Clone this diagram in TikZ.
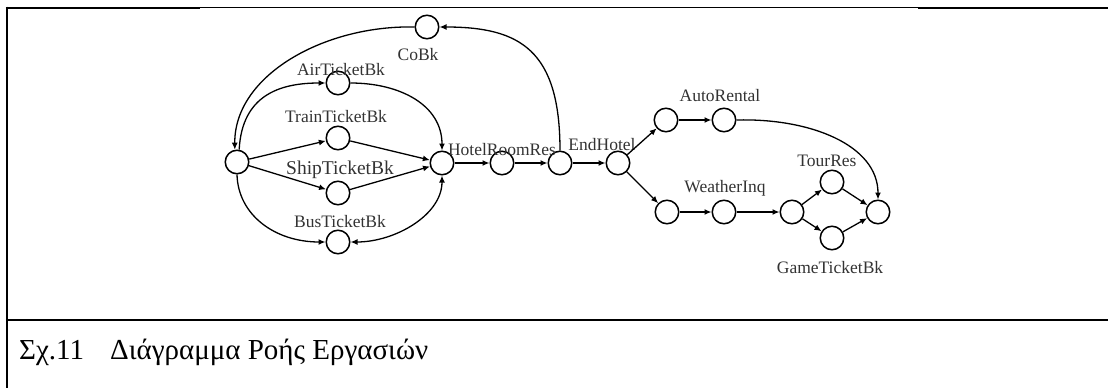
\documentclass[tikz,border=0pt]{standalone}
\usepackage{fontspec}
\setmainfont{Liberation Serif}
\usetikzlibrary{arrows.meta}
\begin{document}
\begin{tikzpicture}[x=1pt,y=-1pt,
  st/.style={circle,draw,line width=1.5pt,minimum size=23.5pt,inner sep=0pt},
  lbl/.style={font=\fontsize{17.5}{17.5}\selectfont,text=black!80,inner sep=0pt},
  edge/.style={line width=1.3pt,-{Latex[length=7pt,width=6pt]}},
  frame/.style={line width=2.5pt},
  thinframe/.style={line width=1pt},
  captext/.style={font=\fontsize{29}{29}\selectfont,inner sep=0pt,anchor=base west}]
\useasboundingbox (0,0) rectangle (1108,388);
% frame
\draw[frame] (7,6.5) -- (7,388);
\draw[frame] (5.75,8) -- (200,8);
\draw[thinframe] (200,7.5) -- (918,7.5);
\draw[frame] (918,8) -- (1108,8);
\draw[frame] (5.75,320) -- (1108,320);
% nodes
\node[st] (S)  at (237,162) {};
\node[st] (Air) at (338,83) {};
\node[st] (Tr) at (338,138) {};
\node[st] (Sh) at (338,193) {};
\node[st] (Bu) at (338,242) {};
\node[st] (J)  at (442,163) {};
\node[st] (H)  at (502,163) {};
\node[st] (N)  at (560,163) {};
\node[st] (Co) at (427,27) {};
\node[st] (E)  at (618,163) {};
\node[st] (A1) at (666,120) {};
\node[st] (A2) at (724,120) {};
\node[st] (W1) at (667,212) {};
\node[st] (W2) at (724,212) {};
\node[st] (W3) at (792,212) {};
\node[st] (T)  at (832,182) {};
\node[st] (G)  at (832,238) {};
\node[st] (F)  at (878,212) {};
% labels
\node[lbl] (lCo) at (418,55) {CoBk};
\node[lbl] (lAir) at (341,70) {AirTicketBk};
\node[lbl] (lTr) at (336,117) {TrainTicketBk};
\node[lbl,font=\fontsize{19.5}{19.5}\selectfont] (lSh) at (340,170) {ShipTicketBk};
\node[lbl] (lBu) at (340,222) {BusTicketBk};
\node[lbl] (lH) at (502,150) {HotelRoomRes};
\node[lbl] (lE) at (602,145) {EndHotel};
\node[lbl] (lA) at (720,96) {AutoRental};
\node[lbl] (lW) at (725,188) {WeatherInq};
\node[lbl] (lT) at (827,161) {TourRes};
\node[lbl] (lG) at (830,268) {GameTicketBk};
% edges
\draw[edge] (Co.west) .. controls (325,25) and (234,75) .. (S.100);
\draw[edge] (S.80) .. controls (242,95) and (280,83) .. (Air.west);
\draw[edge] (S) -- (Tr);
\draw[edge] (S) -- (Sh);
\draw[edge] (S.south) .. controls (238,215) and (275,242) .. (Bu.west);
\draw[edge] (Air.east) .. controls (400,83) and (442,105) .. (J.north);
\draw[edge] (Tr) -- (J);
\draw[edge] (Sh) -- (J);
\draw[line width=1.3pt,{Latex[length=7pt,width=6pt]}-{Latex[length=7pt,width=6pt]}] (Bu.east) .. controls (395,242) and (442,215) .. (J.south);
\draw[edge] (J) -- (H);
\draw[edge] (H) -- (N);
\draw[edge] (N) -- (E);
\draw[edge] (N.north) .. controls (560,50) and (520,27) .. (Co.east);
\draw[edge] (E) -- (A1);
\draw[edge] (E) -- (W1);
\draw[edge] (A1) -- (A2);
\draw[edge] (A2.east) .. controls (810,118) and (878,145) .. (F.north);
\draw[edge] (W1) -- (W2);
\draw[edge] (W2) -- (W3);
\draw[edge] (W3) -- (T);
\draw[edge] (W3) -- (G);
\draw[edge] (T) -- (F);
\draw[edge] (G) -- (F);
% caption
\node[captext] (c1) at (19,359) {Σχ.11};
\node[captext] (c2) at (110,359) {Διάγραμμα Ροής Εργασιών};
\end{tikzpicture}
\end{document}
